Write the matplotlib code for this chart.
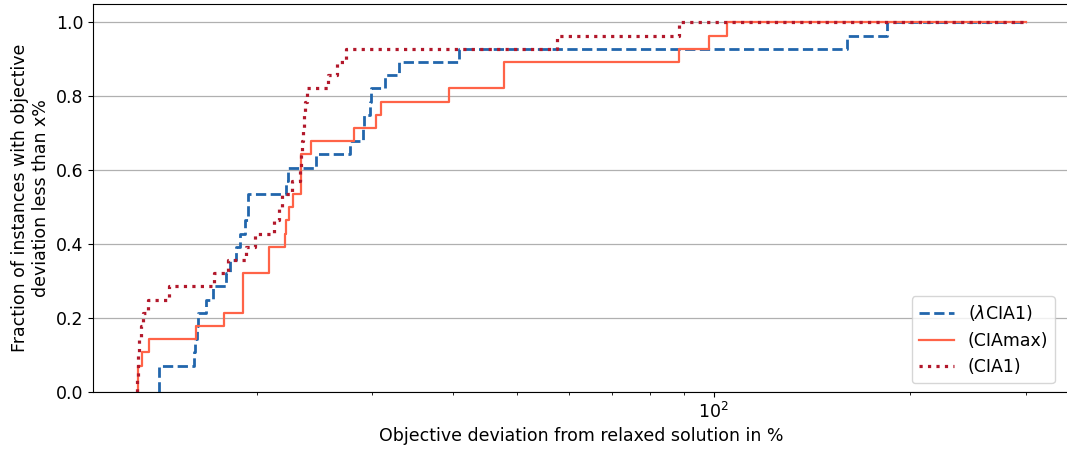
import numpy as np
import matplotlib
matplotlib.use("Agg")
import matplotlib.pyplot as plt

# Sorted objective deviations (%) of the 28 instances for each method
lam_cia1 = [14.16, 14.16, 16.05, 16.11, 16.20, 16.28, 16.73, 17.17, 17.95, 18.20,
            18.62, 18.88, 19.21, 19.42, 19.42, 22.14, 22.30, 24.66, 27.75, 29.05,
            29.15, 29.78, 29.89, 31.45, 32.99, 40.77, 159.7, 184.2]
cia_max = [13.17, 13.17, 13.37, 13.69, 16.15, 17.80, 19.04, 19.04, 19.04, 20.87,
           20.87, 22.06, 22.19, 22.45, 22.71, 23.40, 23.40, 23.40, 24.24, 28.17,
           30.41, 30.96, 39.40, 47.71, 47.71, 88.38, 98.25, 104.9]
cia1 = [13.14, 13.16, 13.18, 13.23, 13.30, 13.38, 13.66, 14.70, 17.22, 18.10,
        19.29, 19.91, 21.29, 21.67, 21.90, 22.61, 23.26, 23.34, 23.42, 23.51,
        23.59, 23.67, 23.84, 25.68, 26.51, 27.36, 57.63, 88.38]
x_end = 300.0  # common right end of all curves

series = [
    (lam_cia1, r"($\lambda$CIA1)", "#2166ac", "--", 2.0),
    (cia_max, "(CIAmax)", "#ff6347", "-", 1.6),
    (cia1, "(CIA1)", "#b2182b", ":", 2.3),
]

plt.rcParams["font.size"] = 12.5
fig = plt.figure(figsize=(10.67, 4.5), dpi=100)
ax = fig.add_axes([93 / 1067, 58 / 450, (1070 - 93) / 1067, (392 - 4) / 450])

for vals, label, color, ls, lw in series:
    v = np.asarray(vals)
    n = len(v)
    xs = np.concatenate([[v[0]], v, [x_end]])
    ys = np.concatenate([[0.0], np.arange(1, n + 1) / n, [1.0]])
    ax.step(xs, ys, where="post", color=color, linestyle=ls, linewidth=lw, label=label)

ax.set_xscale("log")
ax.set_ylim(0, 1.05)
ax.set_yticks([0.0, 0.2, 0.4, 0.6, 0.8, 1.0])
ax.yaxis.grid(True, color="#b0b0b0", linewidth=0.9)
ax.set_axisbelow(True)
ax.set_xlabel("Objective deviation from relaxed solution in %")
ax.set_ylabel("Fraction of instances with objective\ndeviation less than x%")
ax.legend(loc="lower right", bbox_to_anchor=(0.9935, 0.0))

fig.savefig("out.png", dpi=100)
